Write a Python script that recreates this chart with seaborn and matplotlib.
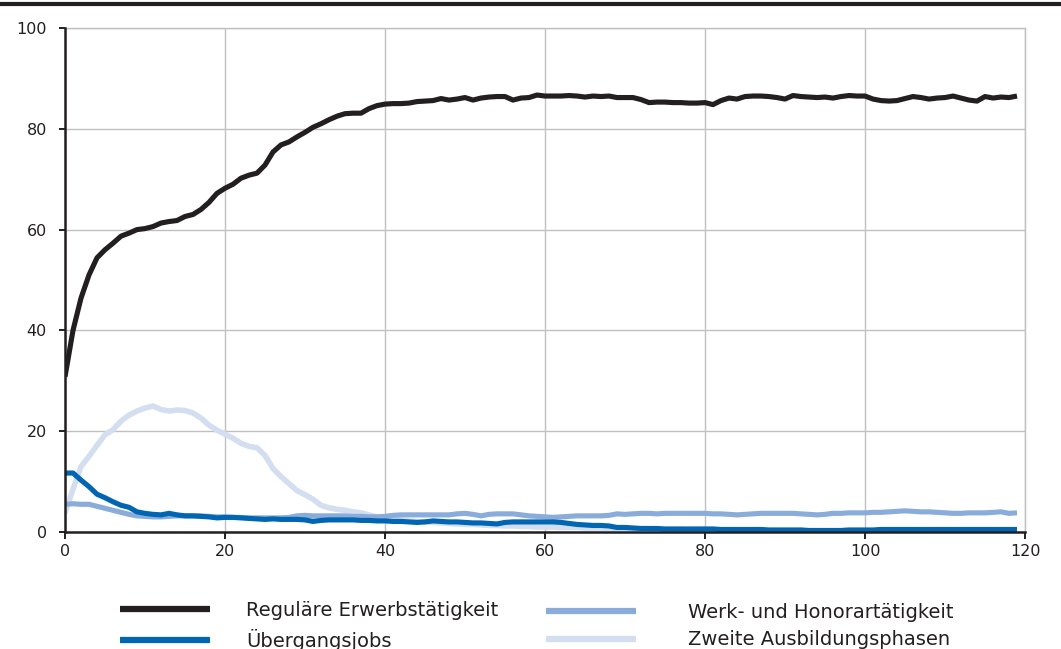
import matplotlib
matplotlib.use("Agg")
import matplotlib.pyplot as plt
import seaborn as sns
import numpy as np
import pandas as pd
from matplotlib.lines import Line2D

months = list(range(120))

regulaer = [30.8, 40.0, 46.4, 51.0, 54.4, 56.0, 57.3, 58.7, 59.3, 60.0,
            60.2, 60.6, 61.3, 61.6, 61.8, 62.6, 63.0, 64.0, 65.4, 67.2,
            68.2, 69.0, 70.2, 70.8, 71.2, 72.8, 75.4, 76.8, 77.4, 78.4,
            79.3, 80.3, 81.0, 81.8, 82.5, 83.0, 83.1, 83.1, 84.0, 84.6,
            84.9, 85.0, 85.0, 85.1, 85.4, 85.5, 85.6, 86.0, 85.7, 85.9,
            86.2, 85.7, 86.1, 86.3, 86.4, 86.4, 85.7, 86.1, 86.2, 86.7,
            86.5, 86.5, 86.5, 86.6, 86.5, 86.3, 86.5, 86.4, 86.5, 86.2,
            86.2, 86.2, 85.8, 85.2, 85.3, 85.3, 85.2, 85.2, 85.1, 85.1,
            85.2, 84.8, 85.6, 86.1, 85.9, 86.4, 86.5, 86.5, 86.4, 86.2,
            85.9, 86.6, 86.4, 86.3, 86.2, 86.3, 86.1, 86.4, 86.6, 86.5,
            86.5, 85.9, 85.6, 85.5, 85.6, 86.0, 86.4, 86.2, 85.9, 86.1,
            86.2, 86.5, 86.1, 85.7, 85.5, 86.4, 86.1, 86.3, 86.2, 86.5]

uebergang = [11.7, 11.7, 10.3, 9.0, 7.5, 6.8, 6.0, 5.3, 4.9, 4.0,
             3.7, 3.5, 3.4, 3.7, 3.4, 3.2, 3.2, 3.1, 3.0, 2.8,
             2.9, 2.9, 2.8, 2.7, 2.6, 2.5, 2.6, 2.5, 2.5, 2.5,
             2.4, 2.1, 2.3, 2.4, 2.4, 2.4, 2.4, 2.3, 2.3, 2.2,
             2.2, 2.1, 2.1, 2.0, 1.9, 2.0, 2.2, 2.1, 2.0, 2.0,
             1.9, 1.8, 1.8, 1.7, 1.6, 1.9, 2.0, 2.0, 2.0, 2.0,
             2.0, 2.0, 1.9, 1.7, 1.5, 1.4, 1.3, 1.3, 1.2, 0.9,
             0.9, 0.8, 0.7, 0.7, 0.7, 0.6, 0.6, 0.6, 0.6, 0.6,
             0.6, 0.6, 0.5, 0.5, 0.5, 0.5, 0.5, 0.5, 0.4, 0.4,
             0.4, 0.4, 0.4, 0.3, 0.3, 0.3, 0.3, 0.3, 0.4, 0.4,
             0.4, 0.4, 0.5, 0.5, 0.5, 0.5, 0.5, 0.5, 0.5, 0.5,
             0.5, 0.5, 0.5, 0.5, 0.5, 0.5, 0.5, 0.5, 0.5, 0.5]

werk = [5.5, 5.6, 5.5, 5.5, 5.1, 4.7, 4.3, 3.9, 3.5, 3.2,
        3.1, 3.0, 3.0, 3.1, 3.2, 3.2, 3.2, 3.2, 3.1, 3.0,
        3.0, 2.9, 2.9, 2.8, 2.8, 2.8, 2.8, 2.8, 2.9, 3.2,
        3.3, 3.2, 3.2, 3.2, 3.2, 3.2, 3.1, 3.1, 3.0, 3.0,
        3.1, 3.3, 3.4, 3.4, 3.4, 3.4, 3.4, 3.4, 3.4, 3.6,
        3.7, 3.5, 3.2, 3.5, 3.6, 3.6, 3.6, 3.4, 3.2, 3.1,
        3.0, 2.9, 3.0, 3.1, 3.2, 3.2, 3.2, 3.2, 3.3, 3.6,
        3.5, 3.6, 3.7, 3.7, 3.6, 3.7, 3.7, 3.7, 3.7, 3.7,
        3.7, 3.6, 3.6, 3.5, 3.4, 3.5, 3.6, 3.7, 3.7, 3.7,
        3.7, 3.7, 3.6, 3.5, 3.4, 3.5, 3.7, 3.7, 3.8, 3.8,
        3.8, 3.9, 3.9, 4.0, 4.1, 4.2, 4.1, 4.0, 4.0, 3.9,
        3.8, 3.7, 3.7, 3.8, 3.8, 3.8, 3.9, 4.0, 3.7, 3.8]

zweite = [3.8, 8.5, 13.0, 15.0, 17.2, 19.3, 20.3, 22.0, 23.2, 24.0,
          24.6, 25.0, 24.3, 24.0, 24.2, 24.1, 23.6, 22.6, 21.2, 20.2,
          19.4, 18.6, 17.6, 17.0, 16.7, 15.2, 12.6, 11.0, 9.6, 8.2,
          7.4, 6.5, 5.3, 4.8, 4.5, 4.3, 4.0, 3.8, 3.4, 3.0,
          2.8, 2.6, 2.4, 2.2, 2.1, 2.0, 1.9, 1.8, 1.7, 1.6,
          1.5, 1.5, 1.4, 1.3, 1.3, 1.2, 1.2, 1.1, 1.1, 1.0,
          1.0, 1.0, 0.9, 0.9, 0.9, 0.8, 0.8, 0.8, 0.7, 0.7,
          0.7, 0.6, 0.6, 0.6, 0.5, 0.5, 0.5, 0.5, 0.4, 0.4,
          0.4, 0.4, 0.4, 0.3, 0.3, 0.3, 0.3, 0.3, 0.3, 0.3,
          0.3, 0.3, 0.3, 0.2, 0.2, 0.2, 0.2, 0.2, 0.2, 0.2,
          0.2, 0.2, 0.2, 0.2, 0.2, 0.2, 0.2, 0.2, 0.2, 0.2,
          0.2, 0.2, 0.2, 0.2, 0.2, 0.2, 0.2, 0.2, 0.2, 0.2]

series_names = ["Reguläre Erwerbstätigkeit", "Übergangsjobs",
                "Werk- und Honorartätigkeit", "Zweite Ausbildungsphasen"]
series_values = [regulaer, uebergang, werk, zweite]
series_colors = ["#231f20", "#0066b3", "#8aacdb", "#d3def1"]
series_widths = [3.7, 3.7, 3.7, 4.0]

x_ticks = [0, 20, 40, 60, 80, 100, 120]
y_ticks = [0, 20, 40, 60, 80, 100]

sns.set_theme(style="white")
plt.rcParams['font.family'] = ['DejaVu Sans']

fig = plt.figure(figsize=(10.61, 6.49), dpi=100)
ax = fig.add_axes([65/1061, 1-532/649, 960/1061, 504/649])

# draw order: light first, black last
draw_order = [3, 2, 1, 0]
for i in draw_order:
    sns.lineplot(x=months, y=series_values[i], color=series_colors[i],
                 linewidth=series_widths[i], ax=ax, legend=False, zorder=3 + (3 - i),
                 solid_capstyle='butt')

ax.set_xlim(0, 120)
ax.set_ylim(0, 100)
ax.set_xticks(x_ticks)
ax.set_yticks(y_ticks)
ax.set_xticklabels([str(t) for t in x_ticks])
ax.set_yticklabels([str(t) for t in y_ticks])
ax.grid(True, color="#c0c0c0", linewidth=1.0)
ax.set_axisbelow(True)
for s in ["top", "right"]:
    ax.spines[s].set_color("#c0c0c0")
    ax.spines[s].set_linewidth(1.0)
for s in ["left", "bottom"]:
    ax.spines[s].set_color("#231f20")
    ax.spines[s].set_linewidth(1.8)
    ax.spines[s].set_zorder(10)
ax.tick_params(axis="y", direction="out", length=4.5, width=1.4, color="#231f20",
               labelsize=11.5, pad=8.5, labelcolor="#231f20", left=True)
ax.tick_params(axis="x", direction="out", length=5, width=1.4, color="#231f20",
               labelsize=11.5, pad=4, labelcolor="#231f20", bottom=True)
ax.set_xlabel("")
ax.set_ylabel("")

# top rule
fig.add_artist(Line2D([0, 1], [1 - 3.5/649, 1 - 3.5/649], transform=fig.transFigure,
                      color="#231f20", linewidth=3.0))

def make_handle(i):
    return Line2D([], [], color=series_colors[i], linewidth=4.5, solid_capstyle='butt')

leg_kw = dict(frameon=False, fontsize=14, handlelength=4.64,
              labelspacing=0.45, borderpad=0, borderaxespad=0, loc="center left",
              labelcolor="#231f20")
fig.legend([make_handle(0), make_handle(1)], [series_names[0], series_names[1]],
           bbox_to_anchor=(120/1061, 1 - 626/649), handletextpad=1.86, **leg_kw)
fig.legend([make_handle(2), make_handle(3)], [series_names[2], series_names[3]],
           bbox_to_anchor=(546/1061, 1 - 626/649), handletextpad=2.67, **leg_kw)

fig.savefig("out.png", dpi=100)
